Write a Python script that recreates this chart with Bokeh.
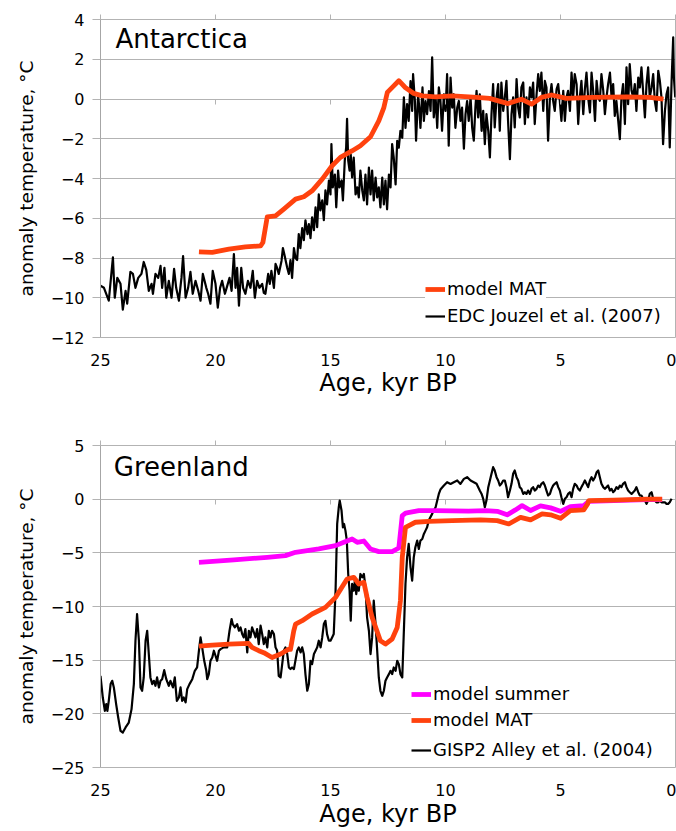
from bokeh.plotting import figure
from bokeh.models import Range1d, FixedTicker, LinearAxis, Legend, LegendItem, Label
from bokeh.layouts import column
from bokeh.embed import file_html
from bokeh.resources import INLINE

# ---------------- data ----------------
x_ticks = [0, 5, 10, 15, 20, 25]
ant_y_ticks = [-12, -10, -8, -6, -4, -2, 0, 2, 4]
gr_y_ticks = [-25, -20, -15, -10, -5, 0, 5]

# Antarctica: EDC Jouzel et al. (2007)
edc_age = [25.0, 24.85, 24.64, 24.46, 24.38, 24.27, 24.13, 24.03, 23.91, 23.84, 23.7, 23.59, 23.48, 23.36, 23.22,
           23.12, 23.01, 22.9, 22.78, 22.72, 22.61, 22.49, 22.39, 22.32, 22.22, 22.14, 22.03, 21.91, 21.8, 21.71,
           21.59, 21.48, 21.41, 21.3, 21.19, 21.09, 20.99, 20.87, 20.75, 20.65, 20.55, 20.4, 20.32, 20.22, 20.12,
           20.0, 19.9, 19.8, 19.71, 19.59, 19.49, 19.39, 19.3, 19.2, 19.13, 19.06, 18.98, 18.88, 18.8, 18.7,
           18.59, 18.48, 18.38, 18.29, 18.19, 18.09, 17.97, 17.9, 17.83, 17.71, 17.64, 17.57, 17.46, 17.39, 17.32,
           17.25, 17.13, 17.07, 17.01, 16.88, 16.81, 16.74, 16.67, 16.59, 16.52, 16.45, 16.38, 16.31, 16.23, 16.16,
           16.09, 16.0, 15.94, 15.87, 15.8, 15.72, 15.65, 15.58, 15.51, 15.44, 15.36, 15.29, 15.22, 15.15, 15.07,
           15.0, 14.96, 14.9, 14.81, 14.75, 14.67, 14.61, 14.52, 14.46, 14.38, 14.32, 14.28, 14.23, 14.17, 14.12,
           14.06, 13.99, 13.91, 13.84, 13.77, 13.7, 13.62, 13.55, 13.48, 13.41, 13.33, 13.26, 13.19, 13.12, 13.04,
           12.97, 12.9, 12.83, 12.75, 12.68, 12.61, 12.54, 12.46, 12.39, 12.32, 12.25, 12.17, 12.1, 12.03, 11.96,
           11.88, 11.81, 11.74, 11.67, 11.6, 11.52, 11.45, 11.41, 11.33, 11.28, 11.19, 11.13, 11.09, 11.0, 10.94,
           10.87, 10.8, 10.72, 10.65, 10.58, 10.51, 10.43, 10.36, 10.29, 10.22, 10.15, 10.07, 10.0, 9.93, 9.86,
           9.78, 9.71, 9.64, 9.57, 9.49, 9.42, 9.35, 9.28, 9.2, 9.13, 9.06, 8.99, 8.91, 8.84, 8.77,
           8.7, 8.65, 8.58, 8.51, 8.43, 8.36, 8.29, 8.22, 8.14, 8.07, 8.0, 7.93, 7.86, 7.78, 7.71,
           7.64, 7.57, 7.49, 7.42, 7.35, 7.28, 7.2, 7.13, 7.06, 6.99, 6.91, 6.84, 6.77, 6.7, 6.62,
           6.55, 6.48, 6.41, 6.33, 6.26, 6.19, 6.12, 6.04, 5.97, 5.9, 5.83, 5.75, 5.68, 5.61, 5.54,
           5.46, 5.39, 5.32, 5.25, 5.17, 5.1, 5.03, 4.96, 4.88, 4.81, 4.74, 4.67, 4.59, 4.52, 4.45,
           4.38, 4.3, 4.23, 4.16, 4.09, 4.01, 3.94, 3.87, 3.8, 3.72, 3.65, 3.58, 3.5, 3.43, 3.36,
           3.29, 3.22, 3.14, 3.07, 3.0, 2.93, 2.85, 2.78, 2.71, 2.64, 2.57, 2.49, 2.42, 2.35, 2.28,
           2.2, 2.13, 2.06, 1.99, 1.91, 1.84, 1.77, 1.7, 1.62, 1.55, 1.48, 1.41, 1.33, 1.26, 1.19,
           1.12, 1.04, 0.97, 0.9, 0.83, 0.75, 0.68, 0.61, 0.54, 0.46, 0.39, 0.32, 0.25, 0.17, 0.1,
           0.07, 0.01]
edc_temp = [-9.4, -9.5, -10.15, -7.97, -10.0, -9.0, -9.3, -10.6, -9.65, -10.3, -8.7, -8.8, -9.5, -9.0, -8.8,
            -8.2, -8.6, -9.65, -9.3, -9.8, -8.8, -9.0, -8.4, -9.5, -8.5, -10.0, -9.15, -10.0, -8.55, -9.5,
            -10.15, -9.0, -7.9, -10.0, -9.5, -8.7, -9.8, -9.15, -9.65, -10.15, -8.8, -9.5, -9.8, -10.3, -8.65,
            -9.3, -10.5, -9.5, -9.15, -9.8, -9.4, -9.0, -9.65, -7.8, -9.5, -8.5, -10.4, -8.5, -9.5, -9.8,
            -9.15, -9.5, -8.65, -10.0, -9.15, -9.5, -9.3, -9.75, -9.8, -8.8, -9.3, -8.65, -9.5, -8.3, -8.5,
            -8.8, -8.15, -7.5, -7.8, -8.5, -8.8, -8.1, -9.0, -7.5, -8.0, -8.1, -6.8, -7.5, -6.5, -7.1,
            -6.1, -6.8, -6.3, -7.0, -5.95, -6.6, -5.45, -6.45, -4.8, -5.6, -5.1, -6.1, -4.6, -5.3, -4.1,
            -4.8, -2.27, -4.45, -3.8, -5.45, -3.6, -4.45, -4.1, -5.1, -3.1, -2.45, -1.0, -3.1, -3.6, -2.8,
            -3.95, -2.95, -4.8, -4.45, -4.95, -3.6, -4.6, -5.1, -3.8, -5.3, -3.45, -4.8, -3.6, -5.1, -3.95,
            -4.95, -4.45, -5.45, -3.95, -5.3, -4.1, -5.55, -3.8, -4.45, -2.27, -2.95, -4.3, -2.1, -2.45, -1.6,
            -1.95, 0.08, -1.45, -0.26, -1.1, 0.9, -0.6, 1.25, -0.1, -2.1, 0.24, -0.6, -1.45, 0.58, -1.1,
            -0.1, -0.76, 0.4, -0.6, 2.1, -0.93, 0.08, -1.45, 0.58, -0.1, -1.6, 0.24, -0.6, 1.25, -2.35,
            1.08, -0.43, 0.24, -1.45, -0.43, -0.1, -1.1, -0.43, -2.5, -0.76, -0.1, -1.1, 0.08, -1.45, -2.1,
            -0.43, 0.41, -0.93, 0.24, -1.6, -0.6, -2.27, -0.76, -1.6, -2.94, -0.76, 0.75, -1.43, 0.08, 0.75,
            -1.6, 0.83, -0.6, 0.08, 0.91, -1.1, -3.03, -0.76, 0.08, -1.43, 1.0, -0.43, -0.93, 0.58, 0.83,
            -1.26, 0.08, -0.93, 0.58, 0.08, 0.83, -1.26, 0.24, 1.25, 0.41, 1.33, -0.6, 0.91, 0.58, -2.1,
            0.08, 0.75, -0.09, -0.6, 0.5, 0.75, -0.09, -1.1, 0.41, -1.1, 0.08, 0.41, -0.6, 1.33, 0.08,
            1.25, 0.75, -1.26, 0.08, 0.91, -0.76, 0.5, 1.33, 0.08, -0.68, 1.33, 0.41, -1.1, 0.91, 0.08,
            -0.09, 1.25, 0.41, -0.76, 0.08, 0.75, 1.33, 0.08, 0.75, -0.85, -0.09, -1.1, -2.02, 0.08, 0.75,
            -1.26, 1.59, -0.26, 1.75, 0.41, 0.08, 0.75, -0.6, 1.08, 0.58, 1.59, 0.41, -0.93, 0.75, 1.59,
            0.08, 0.58, 1.25, -0.09, -0.6, 1.42, 0.91, 0.08, -2.27, -0.6, 0.24, 0.58, -2.44, 0.91, 3.1,
            1.08, 0.08]

# Antarctica: model MAT
ant_mat_age = [20.72, 20.14, 19.42, 18.7, 18.04, 17.94, 17.75, 17.39, 17.03, 16.52, 16.16, 15.8, 15.36, 14.93,
               14.57, 14.05, 13.7, 13.26, 12.9, 12.68, 12.53, 12.25, 12.03, 11.75, 11.38, 11.0, 10.43, 9.7,
               8.98, 8.65, 8.08, 7.28, 6.7, 6.26, 5.83, 5.39, 4.74, 3.58, 2.13, 1.12, 0.52]
ant_mat_temp = [-7.69, -7.72, -7.55, -7.44, -7.39, -7.22, -5.93, -5.88, -5.54, -5.04, -4.92, -4.62, -4.03, -3.36,
                -2.94, -2.6, -2.35, -1.9, -1.1, -0.43, 0.33, 0.66, 0.92, 0.58, 0.28, 0.16, 0.11, 0.16,
                0.11, 0.08, 0.03, -0.23, -0.01, -0.26, 0.08, 0.2, 0.03, 0.08, 0.11, 0.08, -0.01]

# Greenland: GISP2 Alley et al. (2004)
gisp_age = [25.0, 24.9, 24.81, 24.75, 24.7, 24.64, 24.56, 24.49, 24.42, 24.32, 24.23, 24.13, 24.03, 23.91, 23.77,
            23.65, 23.55, 23.48, 23.41, 23.33, 23.26, 23.19, 23.12, 23.04, 22.97, 22.9, 22.83, 22.75, 22.68, 22.61,
            22.54, 22.46, 22.39, 22.32, 22.23, 22.14, 22.03, 21.96, 21.85, 21.77, 21.68, 21.59, 21.52, 21.45, 21.38,
            21.3, 21.23, 21.13, 21.01, 20.9, 20.8, 20.72, 20.65, 20.58, 20.49, 20.4, 20.36, 20.29, 20.22, 20.14,
            20.07, 20.0, 19.93, 19.85, 19.78, 19.64, 19.49, 19.39, 19.3, 19.25, 19.16, 19.06, 18.98, 18.91, 18.84,
            18.77, 18.7, 18.62, 18.55, 18.48, 18.41, 18.33, 18.26, 18.19, 18.12, 18.04, 17.97, 17.9, 17.83, 17.75,
            17.68, 17.61, 17.54, 17.46, 17.39, 17.32, 17.25, 17.17, 17.1, 17.03, 16.96, 16.88, 16.81, 16.74, 16.67,
            16.59, 16.45, 16.38, 16.3, 16.23, 16.16, 16.09, 16.01, 15.94, 15.87, 15.8, 15.72, 15.65, 15.58, 15.51,
            15.43, 15.36, 15.29, 15.22, 15.15, 15.07, 15.0, 14.93, 14.86, 14.78, 14.71, 14.64, 14.6, 14.52, 14.46,
            14.41, 14.35, 14.29, 14.23, 14.17, 14.12, 14.06, 13.99, 13.94, 13.88, 13.83, 13.77, 13.7, 13.62, 13.55,
            13.48, 13.41, 13.33, 13.26, 13.19, 13.12, 13.04, 12.97, 12.9, 12.83, 12.75, 12.68, 12.61, 12.54, 12.46,
            12.39, 12.32, 12.25, 12.17, 12.1, 12.03, 11.96, 11.88, 11.81, 11.74, 11.67, 11.6, 11.52, 11.45, 11.38,
            11.31, 11.23, 11.16, 11.09, 11.01, 10.94, 10.87, 10.8, 10.73, 10.58, 10.51, 10.43, 10.36, 10.29, 10.22,
            10.07, 9.93, 9.78, 9.64, 9.49, 9.35, 9.2, 9.06, 8.91, 8.77, 8.65, 8.51, 8.43, 8.36, 8.29,
            8.22, 8.14, 8.07, 8.0, 7.93, 7.86, 7.78, 7.71, 7.64, 7.57, 7.49, 7.42, 7.35, 7.28, 7.2,
            7.13, 7.06, 6.99, 6.91, 6.84, 6.77, 6.7, 6.62, 6.55, 6.48, 6.41, 6.33, 6.26, 6.19, 6.12,
            6.04, 5.97, 5.9, 5.83, 5.75, 5.68, 5.61, 5.54, 5.46, 5.39, 5.32, 5.25, 5.17, 5.1, 5.03,
            4.96, 4.88, 4.81, 4.74, 4.67, 4.59, 4.52, 4.45, 4.38, 4.3, 4.23, 4.16, 4.09, 4.01, 3.94,
            3.87, 3.8, 3.72, 3.65, 3.58, 3.5, 3.43, 3.36, 3.29, 3.22, 3.14, 3.07, 3.0, 2.93, 2.85,
            2.78, 2.71, 2.64, 2.57, 2.49, 2.42, 2.35, 2.28, 2.2, 2.13, 2.06, 1.99, 1.91, 1.84, 1.77,
            1.7, 1.62, 1.55, 1.48, 1.41, 1.33, 1.26, 1.19, 1.12, 1.04, 0.97, 0.9, 0.83, 0.75, 0.68,
            0.61, 0.54, 0.46, 0.39, 0.32, 0.25, 0.17]
gisp_temp = [-16.46, -18.48, -19.72, -19.1, -19.72, -18.79, -17.23, -16.92, -17.54, -19.1, -20.34, -21.59, -21.74, -21.27, -20.81,
             -19.56, -17.23, -13.19, -10.7, -13.19, -17.54, -17.85, -16.61, -13.19, -12.26, -14.43, -16.61, -17.23, -16.92, -17.39,
             -16.61, -17.54, -16.92, -16.77, -15.93, -16.77, -17.39, -16.92, -17.54, -16.61, -18.79, -18.48, -17.54, -18.79, -18.48,
             -18.94, -17.7, -17.23, -16.77, -15.99, -15.68, -14.12, -12.88, -13.81, -15.06, -15.99, -16.77, -16.3, -15.06, -14.75,
             -14.12, -14.59, -15.06, -14.12, -13.97, -13.81, -13.81, -12.26, -11.17, -11.64, -11.95, -11.64, -12.26, -11.95, -12.57,
             -12.88, -12.1, -14.28, -12.26, -12.88, -11.95, -12.41, -12.88, -12.1, -13.5, -11.79, -12.57, -13.5, -12.88, -13.81,
             -12.26, -12.88, -12.26, -12.57, -13.81, -14.12, -16.46, -16.61, -15.37, -14.12, -13.81, -14.43, -15.68, -15.83, -15.68,
             -15.83, -14.12, -13.81, -14.28, -13.81, -14.43, -16.3, -17.85, -17.23, -15.06, -15.37, -14.43, -14.12, -13.81, -13.19,
             -13.81, -12.88, -11.64, -11.33, -12.57, -13.19, -13.19, -12.88, -12.57, -8.53, -2.31, -0.75, -0.13, -1.06, -2.62,
             -2.31, -2.93, -3.86, -6.97, -8.53, -11.32, -7.9, -8.53, -7.59, -8.84, -7.9, -8.53, -6.97, -7.28, -6.97,
             -8.21, -11.01, -12.26, -14.43, -12.88, -9.46, -11.64, -14.12, -16.61, -17.85, -18.32, -17.85, -16.92, -16.61, -16.3,
             -15.99, -16.3, -15.68, -15.99, -15.06, -15.37, -16.3, -16.61, -12.26, -7.9, -5.42, -4.17, -6.35, -7.59, -5.42,
             -4.48, -3.86, -4.64, -3.86, -3.71, -3.24, -2.93, -2.62, -1.99, -1.37, -1.06, -0.75, -0.13, 0.49, 0.9,
             1.27, 1.58, 1.42, 1.58, 1.74, 1.42, 1.89, 2.05, 1.74, 1.58, 1.43, 0.8, 0.49, 0.03, -0.75,
             -0.13, 1.12, 1.74, 2.36, 2.98, 2.67, 2.05, 1.74, 1.27, 1.43, 1.74, 1.74, 1.12, 0.18, 0.8,
             1.43, 2.36, 2.67, 2.05, 1.74, 1.12, 0.96, 0.49, 0.65, 0.49, 0.8, 0.49, 0.96, 1.12, 0.8,
             0.96, 1.27, 1.12, 1.43, 1.58, 1.27, 0.8, 0.34, 0.49, 0.96, 1.27, 1.43, 1.58, 1.12, 0.8,
             0.18, -0.44, 0.03, 0.18, 0.49, 0.65, 0.18, 0.96, 1.43, 1.27, 0.96, 0.8, 1.12, 1.43, 1.74,
             1.43, 1.12, 1.74, 2.05, 1.74, 2.05, 2.51, 2.67, 2.05, 1.43, 1.12, 0.96, 1.12, 1.27, 0.8,
             0.96, 0.65, 0.8, 1.12, 0.96, 1.27, 1.12, 1.43, 1.58, 1.12, 0.8, 0.65, 0.49, 0.65, 0.8,
             1.12, 0.65, 0.34, 0.34, 0.03, -0.13, -0.44, -0.13, 0.49, 0.65, 0.03, -0.13, -0.29, -0.29, -0.13,
             -0.29, -0.29, -0.29, -0.44, -0.44, -0.29, 0.03]

# Greenland: model MAT
gr_mat_age = [20.72, 20.14, 19.42, 18.55, 18.41, 18.12, 17.9, 17.54, 17.17, 16.81, 16.74, 16.6, 16.52, 16.23,
              15.8, 15.22, 14.78, 14.28, 13.99, 13.77, 13.55, 13.41, 13.19, 12.83, 12.61, 12.32, 12.1, 11.96,
              11.88, 11.74, 11.31, 10.73, 9.71, 8.48, 7.75, 7.25, 6.74, 6.3, 5.8, 5.43, 5.0, 4.57, 3.99,
              3.82, 3.77, 2.68, 1.23, 0.58]
gr_mat_temp = [-13.7, -13.6, -13.5, -13.44, -13.81, -14.12, -14.3, -14.75, -14.43, -13.97, -14.0, -12.3, -11.64, -11.32,
               -10.7, -10.08, -9.15, -7.44, -7.28, -7.9, -7.75, -9.15, -11.01, -13.19, -13.5, -13.03, -11.95, -9.46,
               -5.42, -2.62, -2.15, -2.06, -1.99, -1.93, -2.0, -2.31, -1.69, -1.93, -1.37, -1.46, -1.78, -1.06, -1.0,
               -0.44, -0.13, -0.08, 0.0, 0.0]

# Greenland: model summer
gr_sum_age = [20.72, 19.2, 17.75, 16.96, 16.52, 15.51, 14.78, 14.42, 14.06, 13.84, 13.55, 13.26, 12.9, 12.32,
              12.03, 11.88, 11.74, 11.16, 10.43, 9.0, 8.26, 7.75, 7.32, 6.96, 6.67, 6.3, 5.87, 5.43, 5.0,
              4.57, 3.99, 3.77, 2.68, 1.23, 0.58]
gr_sum_temp = [-5.88, -5.66, -5.42, -5.26, -4.95, -4.64, -4.33, -4.02, -3.71, -4.02, -3.9, -4.64, -4.89, -4.89,
               -4.55, -1.53, -1.31, -1.06, -1.06, -1.12, -1.06, -1.13, -1.46, -1.0, -0.6, -1.06, -0.63, -0.81, -1.13,
               -0.69, -0.6, -0.2, -0.13, -0.04, -0.04]

# ---------------- styling ----------------
GRID = "#b3b3b3"
ORANGE = "#ff420e"
MAGENTA = "#ff00ff"
FONT = "DejaVu Sans"
FIG_W = 676


def make_fig(height, b_top, b_bottom, y0, y1, y_ticks, label_standoff, title_standoff):
    p = figure(width=FIG_W, height=height, x_range=Range1d(25, 0), y_range=Range1d(y0, y1),
               output_backend="svg", toolbar_location=None,
               min_border_left=100, min_border_right=1, min_border_top=b_top, min_border_bottom=b_bottom)
    p.outline_line_color = GRID
    p.background_fill_color = "white"
    p.border_fill_color = "white"
    p.xgrid.grid_line_color = None
    p.ygrid.grid_line_color = GRID
    p.ygrid.ticker = FixedTicker(ticks=y_ticks)

    ya = p.left[0]
    ya.ticker = FixedTicker(ticks=y_ticks)
    ya.axis_line_color = "#a6a6a6"
    ya.major_tick_line_color = GRID
    ya.major_tick_out = 8
    ya.major_tick_in = 0
    ya.minor_tick_line_color = None
    ya.major_label_standoff = 8
    ya.major_label_text_font = FONT
    ya.major_label_text_font_size = "16px"
    ya.major_label_text_color = "black"
    ya.axis_label = "anomaly temperature, °C"
    ya.axis_label_text_font = FONT
    ya.axis_label_text_font_size = "18.5px"
    ya.axis_label_text_font_style = "normal"
    ya.axis_label_text_color = "black"
    ya.axis_label_standoff = 11

    xa = p.below[0]
    xa.ticker = FixedTicker(ticks=x_ticks)
    xa.axis_line_color = None
    xa.major_tick_line_color = None
    xa.major_tick_out = 0
    xa.major_tick_in = 0
    xa.minor_tick_line_color = None
    xa.major_label_standoff = label_standoff
    xa.major_label_text_font = FONT
    xa.major_label_text_font_size = "16px"
    xa.major_label_text_color = "black"
    xa.axis_label = "Age, kyr BP"
    xa.axis_label_text_font = FONT
    xa.axis_label_text_font_size = "24px"
    xa.axis_label_text_font_style = "normal"
    xa.axis_label_text_color = "black"
    xa.axis_label_standoff = title_standoff

    empty = {t: "" for t in x_ticks}
    top = LinearAxis(ticker=FixedTicker(ticks=x_ticks), axis_line_color=None,
                     major_tick_line_color=GRID, major_tick_out=5, major_tick_in=0,
                     minor_tick_line_color=None, major_label_text_font_size="0px",
                     major_label_standoff=0, major_label_overrides=empty)
    p.add_layout(top, "above")
    zero = LinearAxis(fixed_location=0, ticker=FixedTicker(ticks=x_ticks), axis_line_color=None,
                      major_tick_line_color=GRID, major_tick_out=5, major_tick_in=0,
                      minor_tick_line_color=None, major_label_text_font_size="0px",
                      major_label_standoff=0, major_label_overrides=empty)
    p.add_layout(zero, "below")
    return p


def add_legend(p, label, renderer, x, y):
    leg = Legend(items=[LegendItem(label=label, renderers=[renderer])], location=(x, y),
                 glyph_width=20, glyph_height=20, label_standoff=2, padding=4, spacing=0, margin=0,
                 border_line_color=None, background_fill_color="white", background_fill_alpha=1.0,
                 label_text_font=FONT, label_text_font_size="18px", label_text_color="black",
                 label_height=20)
    p.add_layout(leg)


# ---------------- Antarctica ----------------
p1 = make_fig(400, 19, 63, -12, 4, ant_y_ticks, 16, 0)
r_edc = p1.line(edc_age, edc_temp, line_color="black", line_width=2.2, line_join="round")
r_amat = p1.line(ant_mat_age, ant_mat_temp, line_color=ORANGE, line_width=4.8, line_join="round")
p1.add_layout(Label(x=24.35, y=3.0, text="Antarctica", text_baseline="middle",
                    text_font=FONT, text_font_size="26px", text_color="black"))
add_legend(p1, "model MAT", r_amat, 325, 38)
add_legend(p1, "EDC Jouzel et al. (2007)", r_edc, 325, 11)

# ---------------- Greenland ----------------
p2 = make_fig(431, 45, 64, -25, 5, gr_y_ticks, 16, 1)
r_gisp = p2.line(gisp_age, gisp_temp, line_color="black", line_width=2.2, line_join="round")
r_gsum = p2.line(gr_sum_age, gr_sum_temp, line_color=MAGENTA, line_width=4.8, line_join="round")
r_gmat = p2.line(gr_mat_age, gr_mat_temp, line_color=ORANGE, line_width=4.8, line_join="round")
p2.add_layout(Label(x=24.42, y=3.0, text="Greenland", text_baseline="middle",
                    text_font=FONT, text_font_size="26px", text_color="black"))
add_legend(p2, "model summer", r_gsum, 311, 63)
add_legend(p2, "model MAT", r_gmat, 311, 37)
add_legend(p2, "GISP2 Alley et al. (2004)", r_gisp, 311, 7)

layout = column(p1, p2, spacing=0)
open("out.html", "w").write(file_html(layout, INLINE))
